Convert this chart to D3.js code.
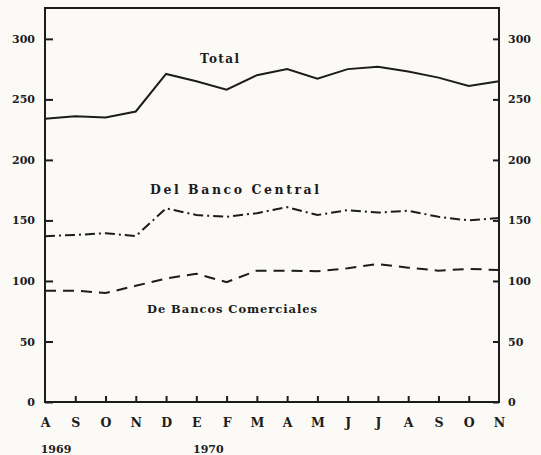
<!DOCTYPE html>
<html>
<head>
<meta charset="utf-8">
<script src="https://cdn.jsdelivr.net/npm/d3@7"></script>
<style>
  body { margin: 0; background: #fbfaf6; }
  svg { display: block; }
  text { font-family: "DejaVu Serif", "Liberation Serif", serif; font-weight: bold; fill: #1c1c1c; }
</style>
</head>
<body>
<div id="graph"></div>
<script>
// months Aug 1969 - Nov 1970
var months = ["A", "S", "O", "N", "D", "E", "F", "M", "A", "M", "J", "J", "A", "S", "O", "N"];
var total     = [234, 236, 235, 240, 271, 265, 258, 270, 275, 267, 275, 277, 273, 268, 261, 265];
var central   = [137, 138, 139.5, 137, 160, 154.5, 153, 156, 161, 154.5, 158.5, 156.5, 158, 153, 150, 152];
var comercial = [92, 92, 90, 96, 102, 106, 99, 108.5, 108.5, 108, 110.5, 114, 111, 108.5, 110, 109];
var yTicks = [0, 50, 100, 150, 200, 250, 300];
var years = [{label: "1969", i: 0, dx: 11}, {label: "1970", i: 5, dx: 12}];

var W = 541, H = 455;
var margin = {top: 8, right: 42, bottom: 53, left: 45};

var svg = d3.select("#graph").append("svg")
    .attr("width", W)
    .attr("height", H);

var x = d3.scalePoint()
    .domain(d3.range(months.length))
    .range([margin.left, W - margin.right]);

var y = d3.scaleLinear()
    .domain([0, 325.5])
    .range([H - margin.bottom, margin.top]);

// frame
svg.append("rect")
    .attr("x", margin.left)
    .attr("y", margin.top)
    .attr("width", W - margin.right - margin.left)
    .attr("height", H - margin.bottom - margin.top)
    .style("fill", "none")
    .style("stroke", "#1c1c1c")
    .style("stroke-width", 2);

// left axis
var left = svg.append("g")
    .attr("transform", "translate(" + margin.left + ",0)")
    .call(d3.axisLeft(y).tickValues(yTicks).tickSize(-8).tickPadding(10).tickFormat(d3.format("d")));
left.select(".domain").remove();

// right axis
var right = svg.append("g")
    .attr("transform", "translate(" + (W - margin.right) + ",0)")
    .call(d3.axisRight(y).tickValues(yTicks).tickSize(-6).tickPadding(9).tickFormat(d3.format("d")));
right.select(".domain").remove();

// bottom axis
var bottom = svg.append("g")
    .attr("transform", "translate(0," + (H - margin.bottom) + ")")
    .call(d3.axisBottom(x).tickSize(-6).tickPadding(16).tickFormat(function (d) { return months[d]; }));
bottom.select(".domain").remove();
bottom.selectAll(".tick").filter(function (d) { return d === 0 || d === months.length - 1; })
    .select("line").remove();

svg.selectAll(".tick line").style("stroke", "#1c1c1c").style("stroke-width", 2);
svg.selectAll(".tick text").style("font-size", "11px").style("fill", "#1c1c1c");
bottom.selectAll(".tick text").style("font-size", "12.5px");

// years
svg.selectAll(".year")
    .data(years)
    .enter().append("text")
    .attr("class", "year")
    .attr("x", function (d) { return x(d.i) + d.dx; })
    .attr("y", 453)
    .attr("text-anchor", "middle")
    .style("font-size", "11px")
    .text(function (d) { return d.label; });

var line = d3.line()
    .x(function (d, i) { return x(i); })
    .y(function (d) { return y(d); });

var series = [
    {values: total, dash: null},
    {values: central, dash: "10,4,2,4"},
    {values: comercial, dash: "11,7"}
];

svg.selectAll(".serie")
    .data(series)
    .enter().append("path")
    .attr("class", "serie")
    .attr("d", function (d) { return line(d.values); })
    .style("fill", "none")
    .style("stroke", "#1c1c1c")
    .style("stroke-width", 2)
    .style("stroke-dasharray", function (d) { return d.dash; });

// labels
var labels = [
    {text: "Total", x: 200, y: 63, w: 39, size: 12},
    {text: "Del Banco Central", x: 150, y: 194, w: 169, size: 12.5},
    {text: "De Bancos Comerciales", x: 147, y: 313, w: 170, size: 11.5}
];
svg.selectAll(".lbl")
    .data(labels)
    .enter().append("text")
    .attr("class", "lbl")
    .attr("x", function (d) { return d.x; })
    .attr("y", function (d) { return d.y; })
    .attr("textLength", function (d) { return d.w; })
    .attr("lengthAdjust", "spacing")
    .style("font-size", function (d) { return d.size + "px"; })
    .text(function (d) { return d.text; });
</script>
</body>
</html>
